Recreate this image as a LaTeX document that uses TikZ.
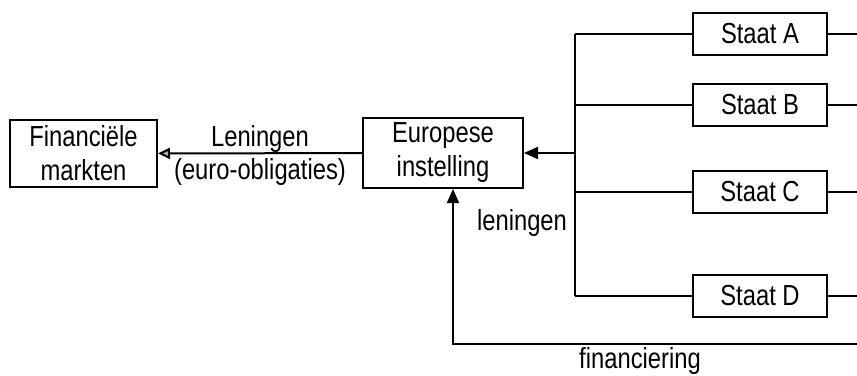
\documentclass[tikz,border=0pt]{standalone}
\usepackage{fontspec}
\setmainfont{Liberation Sans}[FakeStretch=0.82]
\usetikzlibrary{arrows.meta}
\begin{document}
\begin{tikzpicture}[x=1pt,y=-1pt,line width=2pt,
		box/.style={draw,align=center,inner sep=0pt,font=\fontsize{29}{34}\selectfont},
		staatbox/.style={box,minimum width=134pt,minimum height=42pt},
		lbl/.style={font=\fontsize{29}{34}\selectfont},
		tip/.style={-{Triangle[length=14pt,width=12pt]}}]
	\useasboundingbox (0,0) rectangle (857,375);
	\node[box,minimum width=147pt,minimum height=67pt] (markten) at (83.5,153.5)
		{Financiële\\markten};
	\node[box,minimum width=160pt,minimum height=70pt] (instelling) at (443,153)
		{Europese\\instelling};
	\draw[-{Triangle[length=12pt,width=11pt,fill=gray!60]}] (instelling) --
		node[lbl,above=-4pt] (leningenlbl) {Leningen}
		node[lbl,below=1pt] (obligaties) {(euro-obligaties)} (markten);
	% tak naar de staten
	\coordinate (join) at (575,153);
	\coordinate (edge) at (857,0);
	\draw[tip] (join) -- (instelling);
	\foreach \s/\y in {A/34,B/104.5,C/192,D/295.5}{
		\node[staatbox] (staat\s) at (760,\y) {Staat \s};
		\draw (join |- staat\s) -- (staat\s.west);
		\draw (staat\s.east) -- (staat\s.east -| edge);
	}
	\draw (join |- staatA) -- (join |- staatD);
	\node[lbl] (leningen) at (522,223) {leningen};
	% terugweg
	\coordinate (fin) at (857,344);
	\draw[tip] (fin) -| ([xshift=10pt]instelling.south);
	\node[lbl] (financiering) at (640,361) {financiering};
\end{tikzpicture}
\end{document}
